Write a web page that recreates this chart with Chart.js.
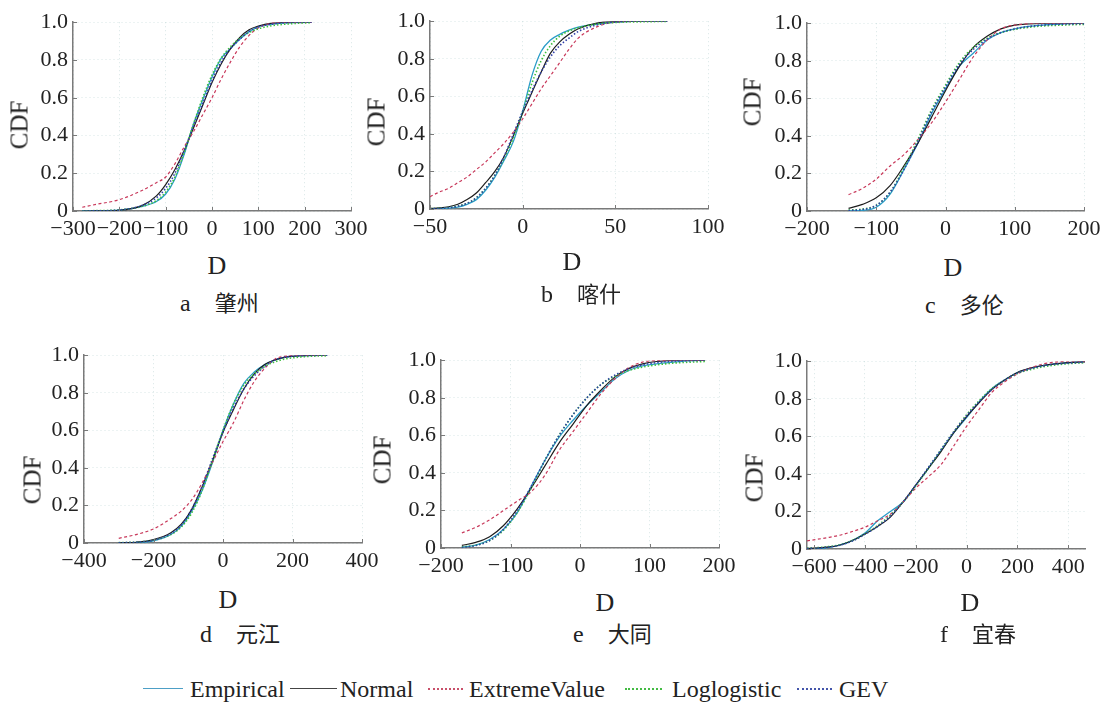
<!DOCTYPE html>
<html><head><meta charset="utf-8">
<script src="https://cdn.jsdelivr.net/npm/chart.js@4.4.1/dist/chart.umd.min.js"></script>
<style>
html,body{margin:0;padding:0;background:#fff;}
#wrap{position:relative;width:1112px;height:702px;overflow:hidden;font-family:"Liberation Serif","Noto Sans CJK SC",serif;color:#222;}
canvas{position:absolute;}
.t{position:absolute;white-space:nowrap;line-height:1;}
.cdf{font-size:25px;transform:translate(-50%,-50%) rotate(-90deg);}
.dl{font-size:26px;transform:translate(-50%,-50%);}
.sub{font-size:24px;transform:translateY(-50%);}
.sub span{font-family:"Noto Sans CJK SC",sans-serif;font-size:22px;margin-left:24px;}
.lg{font-size:24px;transform:translateY(-50%);}
.ln{position:absolute;height:0;}
#probe{position:absolute;left:-999px;top:0;font:22px "Liberation Serif";}
</style></head><body><div id="wrap"><div id="probe">0.123456789−</div></div>
<script>
// ---------- data ----------
const yTicks = [0, 0.2, 0.4, 0.6, 0.8, 1.0];
const yTickLabels = ['0', '0.2', '0.4', '0.6', '0.8', '1.0'];
const seriesNames = ['Empirical', 'Normal', 'ExtremeValue', 'Loglogistic', 'GEV'];

// a 肇州
const xTicksA = [-300, -200, -100, 0, 100, 200, 300];
const xA   = [-280,-250,-200,-150,-120,-100,-80,-60,-40,-20,0,20,40,60,80,100,130,160,190,215];
const empA = [0,0.002,0.005,0.025,0.05,0.09,0.17,0.3,0.46,0.59,0.71,0.81,0.86,0.91,0.95,0.975,0.99,0.997,0.999,1];
const normA= [0,0.0003,0.004,0.03,0.08,0.14,0.22,0.32,0.44,0.56,0.68,0.78,0.86,0.92,0.96,0.98,0.995,0.999,1,1];
const evA  = [0.02,0.035,0.06,0.11,0.15,0.18,0.25,0.34,0.42,0.51,0.6,0.7,0.79,0.87,0.93,0.97,0.995,1,1,1];
const llA  = [0.001,0.002,0.006,0.025,0.055,0.1,0.18,0.31,0.46,0.6,0.72,0.81,0.87,0.915,0.945,0.965,0.982,0.99,0.995,0.997];
const gevA = [0,0.001,0.005,0.03,0.07,0.12,0.2,0.32,0.45,0.57,0.69,0.79,0.86,0.91,0.95,0.975,0.99,0.997,0.999,1];

// b 喀什
const xTicksB = [-50, 0, 50, 100];
const xB   = [-50,-45,-40,-35,-30,-25,-20,-15,-10,-5,0,5,10,15,20,25,30,40,50,65,78];
const empB = [0,0.002,0.005,0.01,0.025,0.05,0.1,0.17,0.26,0.36,0.52,0.71,0.84,0.9,0.93,0.952,0.968,0.985,0.995,1,1];
const normB= [0.003,0.006,0.012,0.025,0.05,0.085,0.14,0.2,0.28,0.39,0.51,0.62,0.73,0.83,0.89,0.93,0.96,0.99,0.998,1,1];
const evB  = [0.066,0.09,0.11,0.14,0.17,0.21,0.25,0.3,0.35,0.41,0.48,0.56,0.64,0.71,0.78,0.85,0.91,0.97,0.995,1,1];
const llB  = [0.002,0.004,0.008,0.016,0.03,0.06,0.11,0.18,0.27,0.38,0.52,0.67,0.79,0.87,0.92,0.948,0.965,0.985,0.993,0.997,0.999];
const gevB = [0.001,0.003,0.007,0.015,0.03,0.06,0.11,0.18,0.28,0.4,0.52,0.63,0.73,0.81,0.87,0.91,0.945,0.98,0.995,1,1];

// c 多伦
const xTicksC = [-200, -100, 0, 100, 200];
const xC   = [-140,-120,-100,-80,-60,-40,-20,0,20,40,60,80,100,120,140,170,200];
const empC = [0,0.003,0.02,0.09,0.22,0.36,0.52,0.65,0.77,0.84,0.91,0.95,0.97,0.983,0.99,0.996,1];
const normC= [0.014,0.035,0.07,0.135,0.24,0.36,0.5,0.64,0.77,0.87,0.93,0.97,0.99,0.996,0.999,1,1];
const evC  = [0.087,0.12,0.17,0.24,0.3,0.38,0.47,0.58,0.7,0.82,0.91,0.97,0.99,0.998,1,1,1];
const llC  = [0.005,0.01,0.03,0.1,0.23,0.38,0.54,0.67,0.79,0.87,0.92,0.95,0.967,0.978,0.985,0.99,0.994];
const gevC = [0.002,0.008,0.03,0.1,0.22,0.37,0.53,0.66,0.78,0.86,0.915,0.95,0.97,0.982,0.99,0.995,0.998];

// d 元江
const xTicksD = [-400, -200, 0, 200, 400];
const xD   = [-300,-250,-200,-150,-120,-90,-60,-30,0,30,60,90,120,150,180,220,260,300];
const empD = [0,0.002,0.012,0.045,0.09,0.17,0.28,0.43,0.6,0.74,0.85,0.91,0.95,0.975,0.99,0.996,0.999,1];
const normD= [0.001,0.004,0.018,0.055,0.1,0.18,0.3,0.44,0.59,0.71,0.82,0.9,0.95,0.975,0.99,0.997,0.999,1];
const evD  = [0.025,0.045,0.075,0.13,0.17,0.23,0.32,0.43,0.54,0.64,0.76,0.86,0.93,0.98,0.995,1,1,1];
const llD  = [0.002,0.005,0.015,0.045,0.085,0.16,0.28,0.44,0.6,0.74,0.84,0.9,0.94,0.965,0.98,0.99,0.995,0.997];
const gevD = [0.001,0.004,0.015,0.05,0.095,0.18,0.3,0.45,0.59,0.72,0.82,0.89,0.94,0.975,0.99,0.997,0.999,1];

// e 大同
const xTicksE = [-200, -100, 0, 100, 200];
const xE   = [-170,-150,-130,-110,-90,-70,-50,-30,-10,10,30,50,70,90,110,130,150,180];
const empE = [0.004,0.015,0.045,0.1,0.19,0.33,0.47,0.59,0.68,0.76,0.83,0.9,0.945,0.97,0.98,0.988,0.995,1];
const normE= [0.014,0.03,0.06,0.12,0.21,0.32,0.44,0.56,0.66,0.76,0.84,0.91,0.955,0.98,0.993,0.998,1,1];
const evE  = [0.08,0.11,0.15,0.2,0.25,0.3,0.39,0.52,0.62,0.72,0.82,0.9,0.96,0.99,0.998,1,1,1];
const llE  = [0.006,0.015,0.04,0.095,0.19,0.32,0.47,0.6,0.71,0.8,0.87,0.915,0.945,0.963,0.975,0.983,0.988,0.993];
const gevE = [0.003,0.013,0.04,0.1,0.2,0.33,0.47,0.6,0.71,0.8,0.87,0.92,0.955,0.975,0.987,0.994,0.997,1];

// f 宜春
const xTicksF = [-600, -400, -200, 0, 200, 400];
const xF   = [-628,-550,-500,-450,-400,-350,-300,-250,-200,-150,-100,-50,0,50,100,150,200,250,300,350,400,466];
const empF = [0,0.006,0.02,0.045,0.085,0.15,0.2,0.25,0.34,0.43,0.525,0.62,0.7,0.785,0.855,0.9,0.94,0.962,0.977,0.986,0.992,1];
const normF= [0.003,0.01,0.02,0.045,0.08,0.12,0.17,0.25,0.34,0.43,0.52,0.62,0.705,0.78,0.85,0.9,0.94,0.963,0.977,0.986,0.992,0.996];
const evF  = [0.043,0.06,0.073,0.093,0.116,0.15,0.185,0.25,0.324,0.385,0.45,0.55,0.653,0.745,0.835,0.89,0.932,0.963,0.985,0.995,1,1];
const llF  = [0.004,0.012,0.022,0.045,0.08,0.125,0.18,0.25,0.335,0.43,0.53,0.625,0.715,0.79,0.855,0.9,0.935,0.955,0.97,0.98,0.987,0.992];
const gevF = [0.002,0.009,0.02,0.042,0.078,0.12,0.175,0.25,0.34,0.435,0.53,0.625,0.71,0.785,0.85,0.9,0.937,0.96,0.975,0.985,0.99,0.995];

// ---------- layout & style ----------
const panels = [
  {x:xA, s:[empA,normA,evA,llA,gevA], xt:xTicksA, min:-300, max:300, box:[73,351,18,211],
   letter:'a', name:'肇州', cdf:[19,125], d:[217,266], sub:[180,302]},
  {x:xB, s:[empB,normB,evB,llB,gevB], xt:xTicksB, min:-50, max:100, box:[430,708,17,209],
   letter:'b', name:'喀什', cdf:[376,122], d:[572,262], sub:[541,293]},
  {x:xC, s:[empC,normC,evC,llC,gevC], xt:xTicksC, min:-200, max:200, box:[807,1084,19,211],
   letter:'c', name:'多伦', cdf:[752,102], d:[953,268], sub:[925,304]},
  {x:xD, s:[empD,normD,evD,llD,gevD], xt:xTicksD, min:-400, max:400, box:[84,362,351,543],
   letter:'d', name:'元江', cdf:[32,480], d:[228,600], sub:[200,633]},
  {x:xE, s:[empE,normE,evE,llE,gevE], xt:xTicksE, min:-200, max:200, box:[441,719,356,548],
   letter:'e', name:'大同', cdf:[382,460], d:[605,603], sub:[573,633]},
  {x:xF, s:[empF,normF,evF,llF,gevF], xt:xTicksF, min:-628, max:466, box:[807,1085,357,549],
   letter:'f', name:'宜春', cdf:[754,478], d:[970,603], sub:[940,633]}
];
const styles = [
  {color:'#2a9cc8', dash:[], width:1.3, order:5},
  {color:'#1e1e1e', dash:[], width:1.2, order:4},
  {color:'#c8385a', dash:[3,2.5], width:1.2, order:3},
  {color:'#3cbf3c', dash:[1.5,2], width:1.6, order:2},
  {color:'#3040a8', dash:[1.5,2], width:1.6, order:1}
];
const legendPos = [
  {l1:143, l2:183, tx:190, border:'solid', color:'#4d9fc6'},
  {l1:290, l2:337, tx:340, border:'solid', color:'#444'},
  {l1:428, l2:463, tx:469, border:'dotted', color:'#c8506a'},
  {l1:625, l2:662, tx:672, border:'dotted', color:'#44bb44'},
  {l1:797, l2:832, tx:839, border:'dotted', color:'#4455aa'}
];
const LEGEND_Y = 689;
const PADL = 70, PADR = 26, PADT = 14, PADB = 40;
const FONT = "'Liberation Serif', serif";
const GRID = 'rgba(180,208,208,0.5)';
const AXIS = '#7a7a7a';

const wrap = document.getElementById('wrap');
function addText(cls, html, x, y) {
  const d = document.createElement('div');
  d.className = 't ' + cls; d.innerHTML = html;
  d.style.left = x + 'px'; d.style.top = y + 'px';
  wrap.appendChild(d);
}
const fmt = v => (v < 0 ? '\u2212' + Math.abs(v) : String(v));

const inwardTicks = {
  id: 'inwardTicks',
  afterDraw(chart) {
    const {ctx, chartArea: a, scales: {x, y}} = chart;
    ctx.save();
    ctx.strokeStyle = AXIS; ctx.lineWidth = 1;
    ctx.beginPath();
    x.ticks.forEach(t => { const p = Math.round(x.getPixelForValue(t.value)) + 0.5; ctx.moveTo(p, a.bottom); ctx.lineTo(p, a.bottom - 4); });
    y.ticks.forEach(t => { const p = Math.round(y.getPixelForValue(t.value)) + 0.5; ctx.moveTo(a.left, p); ctx.lineTo(a.left + 4, p); });
    ctx.stroke();
    ctx.restore();
  }
};

function build() {
  Chart.defaults.font.family = FONT;
  panels.forEach(p => {
    const [L, R, T, B] = p.box;
    const cv = document.createElement('canvas');
    const W = R - L + PADL + PADR, H = B - T + PADT + PADB;
    cv.width = W; cv.height = H;
    cv.style.left = (L - PADL) + 'px'; cv.style.top = (T - PADT) + 'px';
    cv.style.width = W + 'px'; cv.style.height = H + 'px';
    wrap.appendChild(cv);
    const datasets = p.s.map((ys, k) => ({
      label: seriesNames[k],
      data: p.x.map((xv, i) => ({x: xv, y: ys[i]})),
      borderColor: styles[k].color,
      borderDash: styles[k].dash,
      borderWidth: styles[k].width,
      order: styles[k].order,
      fill: false
    }));
    new Chart(cv, {
      type: 'line',
      data: {datasets},
      options: {
        responsive: false, animation: false, devicePixelRatio: 1,
        layout: {padding: {left: 0, top: PADT, right: PADR, bottom: 0}},
        plugins: {legend: {display: false}, tooltip: {enabled: false}},
        elements: {point: {radius: 0}, line: {cubicInterpolationMode: 'monotone'}},
        scales: {
          x: {
            type: 'linear', min: p.min, max: p.max,
            afterBuildTicks: sc => { sc.ticks = p.xt.map(v => ({value: v})); },
            afterFit: sc => { sc.height = PADB; },
            ticks: {font: {family: FONT, size: 22}, color: '#222', padding: 5, maxRotation: 0, autoSkip: false,
                    callback: v => fmt(v)},
            grid: {color: GRID, drawTicks: false},
            border: {color: AXIS, width: 1.5, dash: [1, 3]}
          },
          y: {
            type: 'linear', min: 0, max: 1,
            afterBuildTicks: sc => { sc.ticks = yTicks.map(v => ({value: v})); },
            afterFit: sc => { sc.width = PADL; },
            ticks: {font: {family: FONT, size: 22}, color: '#222', padding: 5, autoSkip: false,
                    callback: (v, i) => yTickLabels[i]},
            grid: {color: GRID, drawTicks: false},
            border: {color: AXIS, width: 1.5, dash: [1, 3]}
          }
        }
      },
      plugins: [inwardTicks]
    });
    addText('cdf', 'CDF', p.cdf[0], p.cdf[1]);
    addText('dl', 'D', p.d[0], p.d[1]);
    addText('sub', p.letter + '<span>' + p.name + '</span>', p.sub[0], p.sub[1]);
  });

  legendPos.forEach((g, k) => {
    const ln = document.createElement('div');
    ln.className = 'ln';
    ln.style.left = g.l1 + 'px'; ln.style.width = (g.l2 - g.l1) + 'px';
    ln.style.top = (LEGEND_Y - 1) + 'px';
    ln.style.borderTop = (g.border === 'solid' ? '1.5px ' : '2px ') + g.border + ' ' + g.color;
    wrap.appendChild(ln);
    addText('lg', seriesNames[k], g.tx, LEGEND_Y);
  });
}

let built = false;
function go() { if (!built) { built = true; build(); } }
if (document.fonts && document.fonts.load) {
  document.fonts.load("22px 'Liberation Serif'").then(go, go);
  setTimeout(go, 300);
} else { go(); }
</script></body></html>
